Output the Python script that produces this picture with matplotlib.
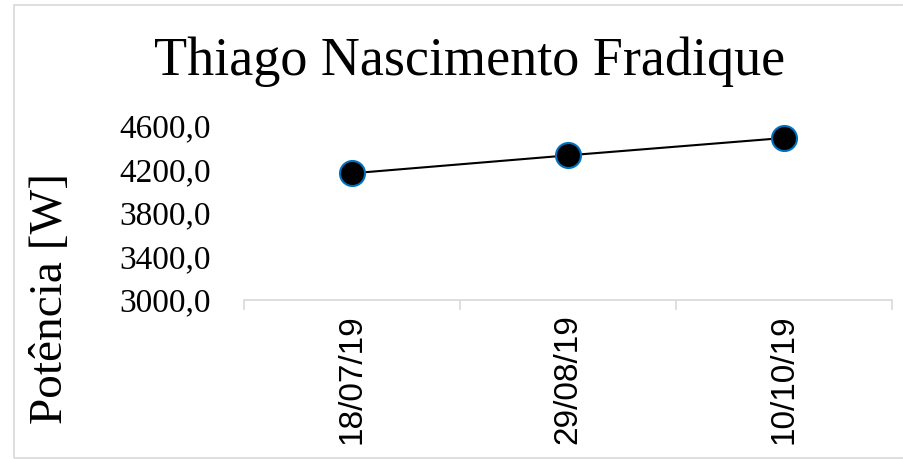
import matplotlib
matplotlib.use("Agg")
import matplotlib.pyplot as plt
from matplotlib.patches import Rectangle
from matplotlib.ticker import FixedLocator, FuncFormatter

# data
datas = ["18/07/19", "29/08/19", "10/10/19"]
potencia = [4165, 4330, 4490]
yticks = [3000, 3400, 3800, 4200, 4600]

fig = plt.figure(figsize=(9.04, 4.59), dpi=100)
ax = fig.add_axes([244/904, 1-300/459, (892-244)/904, (300-126)/459])

xpos = list(range(len(datas)))
ax.plot(xpos, potencia, color="black", lw=1.5, marker="o", ms=18,
        mfc="black", mec="#0070C0", mew=1.5, zorder=3, clip_on=False)

ax.set_xlim(-0.5, len(datas)-0.5)
ax.set_ylim(3000, 4600)

# y axis
ax.set_yticks(yticks)
ax.yaxis.set_major_formatter(FuncFormatter(lambda v, p: ("%.1f" % v).replace(".", ",")))
ax.tick_params(axis="y", length=0, pad=24, labelsize=24)
for t in ax.get_yticklabels():
    t.set_family("Liberation Serif")

# x axis: ticks between categories, labels on minor ticks
ax.xaxis.set_major_locator(FixedLocator([i-0.5 for i in range(len(datas)+1)]))
ax.xaxis.set_minor_locator(FixedLocator(xpos))
ax.set_xticklabels([""]*(len(datas)+1))
ax.set_xticklabels(datas, minor=True, rotation=90, family="Liberation Sans", fontsize=24)
ax.tick_params(axis="x", which="major", length=7, width=1.2, color="#d9d9d9")
ax.tick_params(axis="x", which="minor", length=0, pad=10)

for s in ["top", "right", "left"]:
    ax.spines[s].set_visible(False)
ax.spines["bottom"].set_color("#d9d9d9")
ax.spines["bottom"].set_linewidth(1.2)

fig.text(470/904, 1-62/459, "Thiago Nascimento Fradique", family="Liberation Serif",
         fontsize=39, ha="center", va="center")
fig.text(51/904, 1-298/459, "Potência [W]", family="Liberation Serif",
         fontsize=34, rotation=90, ha="center", va="center")

# chart border
fig.patches.append(Rectangle((14/904, 1/459), 1.0, (459-6)/459, transform=fig.transFigure,
                             fill=False, edgecolor="#d9d9d9", lw=1.2))

fig.savefig("out.png", dpi=100)
